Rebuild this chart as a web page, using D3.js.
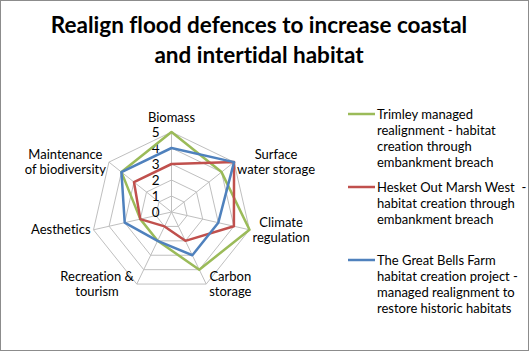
<!DOCTYPE html>
<html>
<head>
<meta charset="utf-8">
<script src="https://cdn.jsdelivr.net/npm/d3@7"></script>
<style>
  body { margin: 0; background: #fff; }
  svg { display: block; font-family: Lato, "Open Sans", sans-serif; font-variant-ligatures: none; }
  text { white-space: pre; }
</style>
</head>
<body>
<div id="chart"></div>
<script>
// axis names, already split the way the reference wraps them
var axisLabels = [
    ["Biomass"],
    ["Surface", "water storage"],
    ["Climate", "regulation"],
    ["Carbon", "storage"],
    ["Recreation &", "tourism"],
    ["Aesthetics"],
    ["Maintenance", "of biodiversity"]
];
var tickValues = [0, 1, 2, 3, 4, 5];

var trimley = [5, 4, 5, 4, 2, 2, 4];
var hesket = [3, 5, 4, 2, 1, 2, 3];
var greatBells = [4, 5, 3, 3, 2, 3, 4];

var seriesNames = [
    ["Trimley managed", "realignment - habitat", "creation through", "embankment breach"],
    ["Hesket Out Marsh West  -", "habitat creation through", "embankment breach"],
    ["The Great Bells Farm", "habitat creation project -", "managed realignment to", "restore historic habitats"]
];
var seriesColors = ["#9BBB59", "#C0504D", "#4F81BD"];
var titleLines = ["Realign flood defences to increase coastal", "and intertidal habitat"];

var width = 531, height = 353;
var cx = 171.5, cy = 212, radius = 80;

var svg = d3.select("#chart").append("svg")
    .attr("width", width)
    .attr("height", height);

// outer frame
svg.append("rect")
    .attr("x", 0.5).attr("y", 0.5)
    .attr("width", width - 3).attr("height", height - 3)
    .attr("fill", "#fff")
    .attr("stroke", "#8c8c8c");

// title
svg.append("g").selectAll("text")
    .data(titleLines)
    .join("text")
    .attr("x", 259)
    .attr("y", (d, i) => 33 + i * 30)
    .attr("text-anchor", "middle")
    .style("font-size", "22.5px")
    .style("font-weight", "bold")
    .attr("fill", "#000")
    .text(d => d);

var rScale = d3.scaleLinear().domain([0, 5]).range([0, radius]);
var total = axisLabels.length;
var angleSlice = Math.PI * 2 / total;

var g = svg.append("g").attr("transform", "translate(" + cx + "," + cy + ")");

function px(r, i) { return r * Math.sin(angleSlice * i); }
function py(r, i) { return -r * Math.cos(angleSlice * i); }

// grid polygons
var gridLine = d3.lineRadial()
    .curve(d3.curveLinearClosed)
    .radius(d => rScale(d.v))
    .angle(d => d.i * angleSlice);

g.append("g").selectAll("path")
    .data(tickValues.filter(t => t > 0))
    .join("path")
    .attr("d", t => gridLine(d3.range(total).map(i => ({ v: t, i: i }))))
    .attr("fill", "none")
    .attr("stroke", "#bfbfbf")
    .attr("stroke-width", 1);

// spokes
g.append("g").selectAll("line")
    .data(d3.range(total))
    .join("line")
    .attr("x1", 0).attr("y1", 0)
    .attr("x2", i => px(rScale(5), i))
    .attr("y2", i => py(rScale(5), i))
    .attr("stroke", "#bfbfbf")
    .attr("stroke-width", 1);

// tick labels
g.append("g").selectAll("text")
    .data(tickValues)
    .join("text")
    .attr("x", -12)
    .attr("y", d => -rScale(d))
    .attr("dy", "0.36em")
    .attr("text-anchor", "end")
    .style("font-size", "13.5px")
    .attr("fill", "#000")
    .text(d => d);

// axis labels
var labels = g.append("g").selectAll("text")
    .data(axisLabels)
    .join("text")
    .style("font-size", "13px")
    .attr("fill", "#000");

var lineH = 14.5;
labels.each(function (lines, i) {
    var t = d3.select(this);
    var spans = t.selectAll("tspan").data(lines).join("tspan").text(d => d);
    var w = d3.max(spans.nodes(), n => n.getComputedTextLength());
    var vx = px(rScale(5), i), vy = py(rScale(5), i);
    var s = Math.sin(angleSlice * i);
    var bx, by;
    if (Math.abs(s) < 0.1) {
        bx = vx;
        by = vy - 10 - (lines.length - 1) * lineH;
    } else {
        bx = s > 0 ? vx + 3 + w / 2 : vx - 3 - w / 2;
        by = vy - (lines.length - 1) * lineH / 2 + 4.5;
    }
    spans.attr("x", bx)
        .attr("y", (d, j) => by + j * lineH)
        .attr("text-anchor", "middle");
});

// series
var radarLine = d3.lineRadial()
    .curve(d3.curveLinearClosed)
    .radius(d => rScale(d))
    .angle((d, i) => i * angleSlice);

g.append("g").selectAll("path")
    .data([trimley, hesket, greatBells])
    .join("path")
    .attr("d", d => radarLine(d))
    .attr("fill", "none")
    .attr("stroke", (d, i) => seriesColors[i])
    .attr("stroke-width", 2.5)
    .attr("stroke-linejoin", "round");

// legend
var legend = svg.append("g").attr("transform", "translate(348,114)");
var entry = legend.selectAll("g")
    .data(seriesNames)
    .join("g")
    .attr("transform", (d, i) => "translate(0," + i * 73 + ")");

entry.append("line")
    .attr("x1", 0).attr("x2", 27)
    .attr("y1", 0).attr("y2", 0)
    .attr("stroke", (d, i) => seriesColors[i])
    .attr("stroke-width", 2.5);

entry.append("text")
    .style("font-size", "13px")
    .attr("fill", "#000")
    .selectAll("tspan")
    .data(d => d)
    .join("tspan")
    .attr("x", 29)
    .attr("y", (d, j) => 4.5 + j * 16)
    .text(d => d);
</script>
</body>
</html>
